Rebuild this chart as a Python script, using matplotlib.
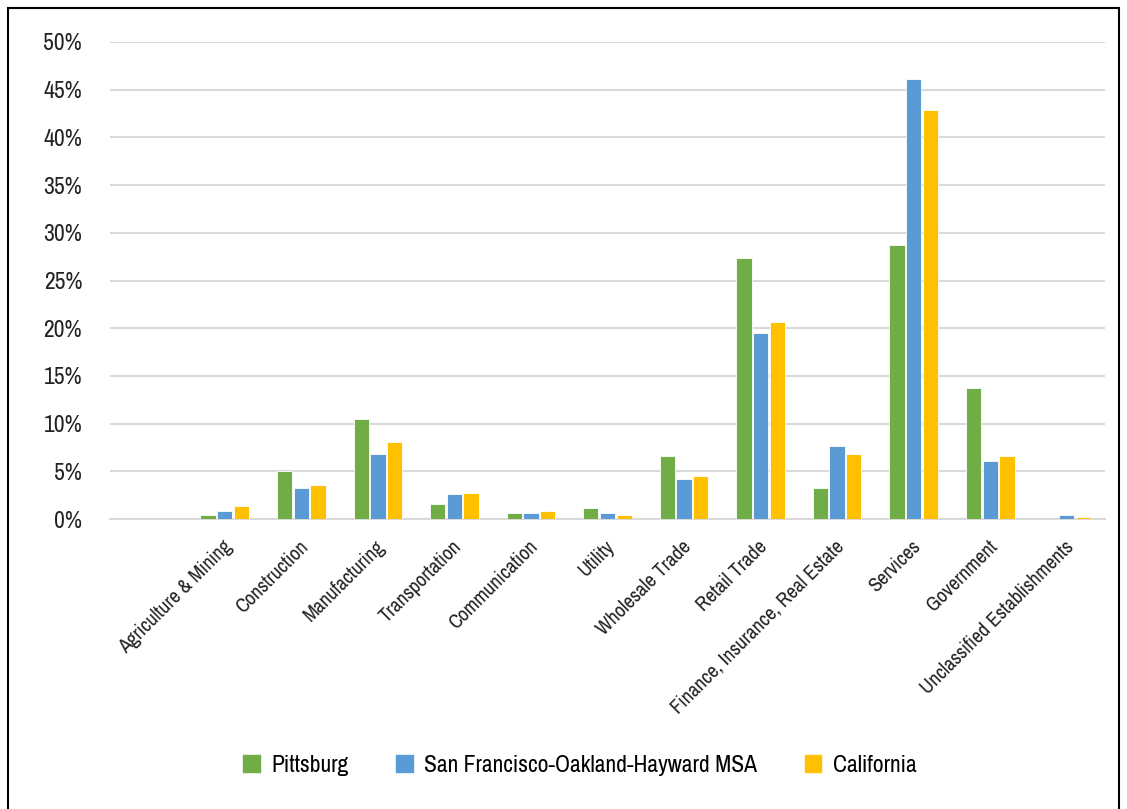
import matplotlib
matplotlib.use("Agg")
import matplotlib.pyplot as plt
import matplotlib.patches as mpatches
import matplotlib.transforms as mtransforms
from matplotlib import font_manager
import numpy as np

categories = ["Agriculture & Mining", "Construction", "Manufacturing", "Transportation",
              "Communication", "Utility", "Wholesale Trade", "Retail Trade",
              "Finance, Insurance, Real Estate", "Services", "Government",
              "Unclassified Establishments"]
pittsburg = [0.4, 5.0, 10.5, 1.6, 0.6, 1.2, 6.6, 27.4, 3.2, 28.7, 13.7, 0.0]
sf_msa    = [0.8, 3.3, 6.8, 2.6, 0.66, 0.66, 4.2, 19.5, 7.7, 46.1, 6.1, 0.4]
california = [1.4, 3.6, 8.1, 2.7, 0.87, 0.45, 4.5, 20.7, 6.8, 42.9, 6.6, 0.2]
series_names = ["Pittsburg", "San Francisco-Oakland-Hayward MSA", "California"]
colors = ["#70AD47", "#5B9BD5", "#FFC000"]
yticks = [0, 5, 10, 15, 20, 25, 30, 35, 40, 45, 50]

names = sorted({f.name for f in font_manager.fontManager.ttflist})
cond = [n for n in names if "Condensed" in n or "Narrow" in n]
family = cond[0] if cond else "Roboto"
plt.rcParams['font.family'] = [family, 'DejaVu Sans']

fig = plt.figure(figsize=(11.27, 8.09), dpi=100)
ax = fig.add_axes([110/1127, 290/809, 995/1127, 477/809])

x = np.arange(len(categories))
pitch = 0.218
for i, (vals, c, n) in enumerate(zip([pittsburg, sf_msa, california], colors, series_names)):
    ax.bar(x + (i - 1) * pitch, vals, width=0.2, color=c, edgecolor="white",
           linewidth=0.6, label=n, zorder=3)

ax.set_xlim(-1.5, 11.5)
ax.set_ylim(0, 50)
ax.set_yticks(yticks)
ax.set_yticklabels([f"{v}%" for v in yticks], fontsize=17, color="#222222")
ax.tick_params(axis="y", length=0, pad=20)
ax.yaxis.grid(True, color="#d9d9d9", linewidth=1.5, zorder=0)
for s in ["top", "right", "left"]:
    ax.spines[s].set_visible(False)
ax.spines["bottom"].set_color("#d9d9d9")
ax.spines["bottom"].set_linewidth(1.5)

ax.set_xticks(x)
ax.set_xticklabels(categories, rotation=45, ha="right", va="center",
                   rotation_mode="anchor", fontsize=14.5, color="#222222")
ax.tick_params(axis="x", length=0, pad=18)
offset = mtransforms.ScaledTranslation(4/100, 0, fig.dpi_scale_trans)
for lbl in ax.get_xticklabels():
    lbl.set_transform(lbl.get_transform() + offset)

handles = [mpatches.Patch(color=c) for c in colors]
fig.legend(handles, series_names, loc="center", bbox_to_anchor=(580/1127, 1 - 765/809),
           ncol=3, frameon=False, fontsize=17, handlelength=0.7, handleheight=0.7,
           columnspacing=2.0, handletextpad=0.5)

fig.patches.append(mpatches.Rectangle((8/1127, -0.05), 1111/1127, 1 - 8/809 + 0.05,
                                      transform=fig.transFigure, fill=False,
                                      edgecolor="black", linewidth=1.5))

fig.savefig("out.png", dpi=100)
